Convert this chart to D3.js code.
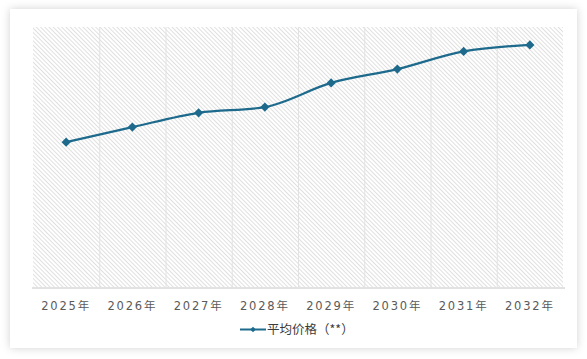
<!DOCTYPE html>
<html><head><meta charset="utf-8">
<script src="https://cdn.jsdelivr.net/npm/d3@7"></script>
<style>
html,body{margin:0;padding:0;background:#fff;}
svg{display:block;}
</style></head>
<body>
<script>
const categories = ["2025年","2026年","2027年","2028年","2029年","2030年","2031年","2032年"];
const seriesName = "平均价格（**）";
const values = [55.7, 61.5, 67.0, 69.2, 78.5, 83.8, 90.6, 93.1];

const W = 587, H = 359;
const svg = d3.select("body").append("svg").attr("width", W).attr("height", H);
const defs = svg.append("defs");
const f = defs.append("filter").attr("id","sh").attr("x","-10%").attr("y","-10%").attr("width","120%").attr("height","120%");
f.append("feDropShadow").attr("dx",0).attr("dy",0).attr("stdDeviation",4).attr("flood-color","#000").attr("flood-opacity",0.18);
const pat = defs.append("pattern").attr("id","hatch").attr("patternUnits","userSpaceOnUse")
  .attr("width",3).attr("height",3).attr("patternTransform","rotate(-45)");
pat.append("rect").attr("width",3).attr("height",3).attr("fill","#fff");
pat.append("line").attr("x1",0.5).attr("y1",0).attr("x2",0.5).attr("y2",3).attr("stroke","#e0e0e0").attr("stroke-width",1);

svg.append("rect").attr("x",10).attr("y",9).attr("width",567).attr("height",339).attr("fill","#fff").attr("filter","url(#sh)");

const m = {left:33, right:563, top:27, bottom:287};
const x = d3.scaleBand().domain(categories).range([m.left, m.right]);
const y = d3.scaleLinear().domain([0,100]).range([m.bottom, m.top]);

svg.append("rect").attr("x",m.left).attr("y",m.top).attr("width",m.right-m.left).attr("height",m.bottom-m.top).attr("fill","url(#hatch)");

// vertical grid at band boundaries
svg.append("g").selectAll("line").data(categories.slice(1)).join("line")
  .attr("x1",d=>x(d)+0.5).attr("x2",d=>x(d)+0.5).attr("y1",m.top).attr("y2",m.bottom)
  .attr("stroke","#e2e2e2").attr("stroke-width",1);

const xAxis = svg.append("g").attr("transform",`translate(0,${m.bottom+1})`)
  .call(d3.axisBottom(x).tickSize(0).tickPadding(14));
xAxis.select(".domain").attr("stroke","#d9d9d9").attr("stroke-width",1.5).attr("d",`M${m.left-1},0H${m.right+2}`);
xAxis.selectAll("text").attr("font-family","'DejaVu Sans', 'Noto Sans CJK SC', sans-serif")
  .attr("font-size",11.5).attr("fill","#5a5a5a").attr("letter-spacing","1.8px");

const line = d3.line().x((d,i)=>x(categories[i])+x.bandwidth()/2).y(d=>y(d)).curve(d3.curveMonotoneX);
svg.append("path").datum(values).attr("d",line).attr("fill","none").attr("stroke","#1d6a8c").attr("stroke-width",2.2);
const sym = d3.symbol().type(d3.symbolSquare).size(42);
svg.append("g").selectAll("path").data(values).join("path")
  .attr("transform",(d,i)=>`translate(${x(categories[i])+x.bandwidth()/2},${y(d)}) rotate(45)`)
  .attr("d",sym).attr("fill","#1d6a8c");

// legend
const lg = svg.append("g").attr("transform","translate(240,329.5)");
lg.append("line").attr("x1",0).attr("x2",26).attr("y1",0).attr("y2",0).attr("stroke","#1d6a8c").attr("stroke-width",2);
lg.append("path").attr("transform","translate(13,0) rotate(45)").attr("d",d3.symbol().type(d3.symbolSquare).size(16)).attr("fill","#1d6a8c");
lg.append("text").attr("x",27).attr("y",0).attr("dy","0.35em").text(seriesName)
  .attr("font-family","'Noto Sans CJK SC', sans-serif").attr("font-size",12.5).attr("fill","#3a3a3a");
</script>
</body></html>
